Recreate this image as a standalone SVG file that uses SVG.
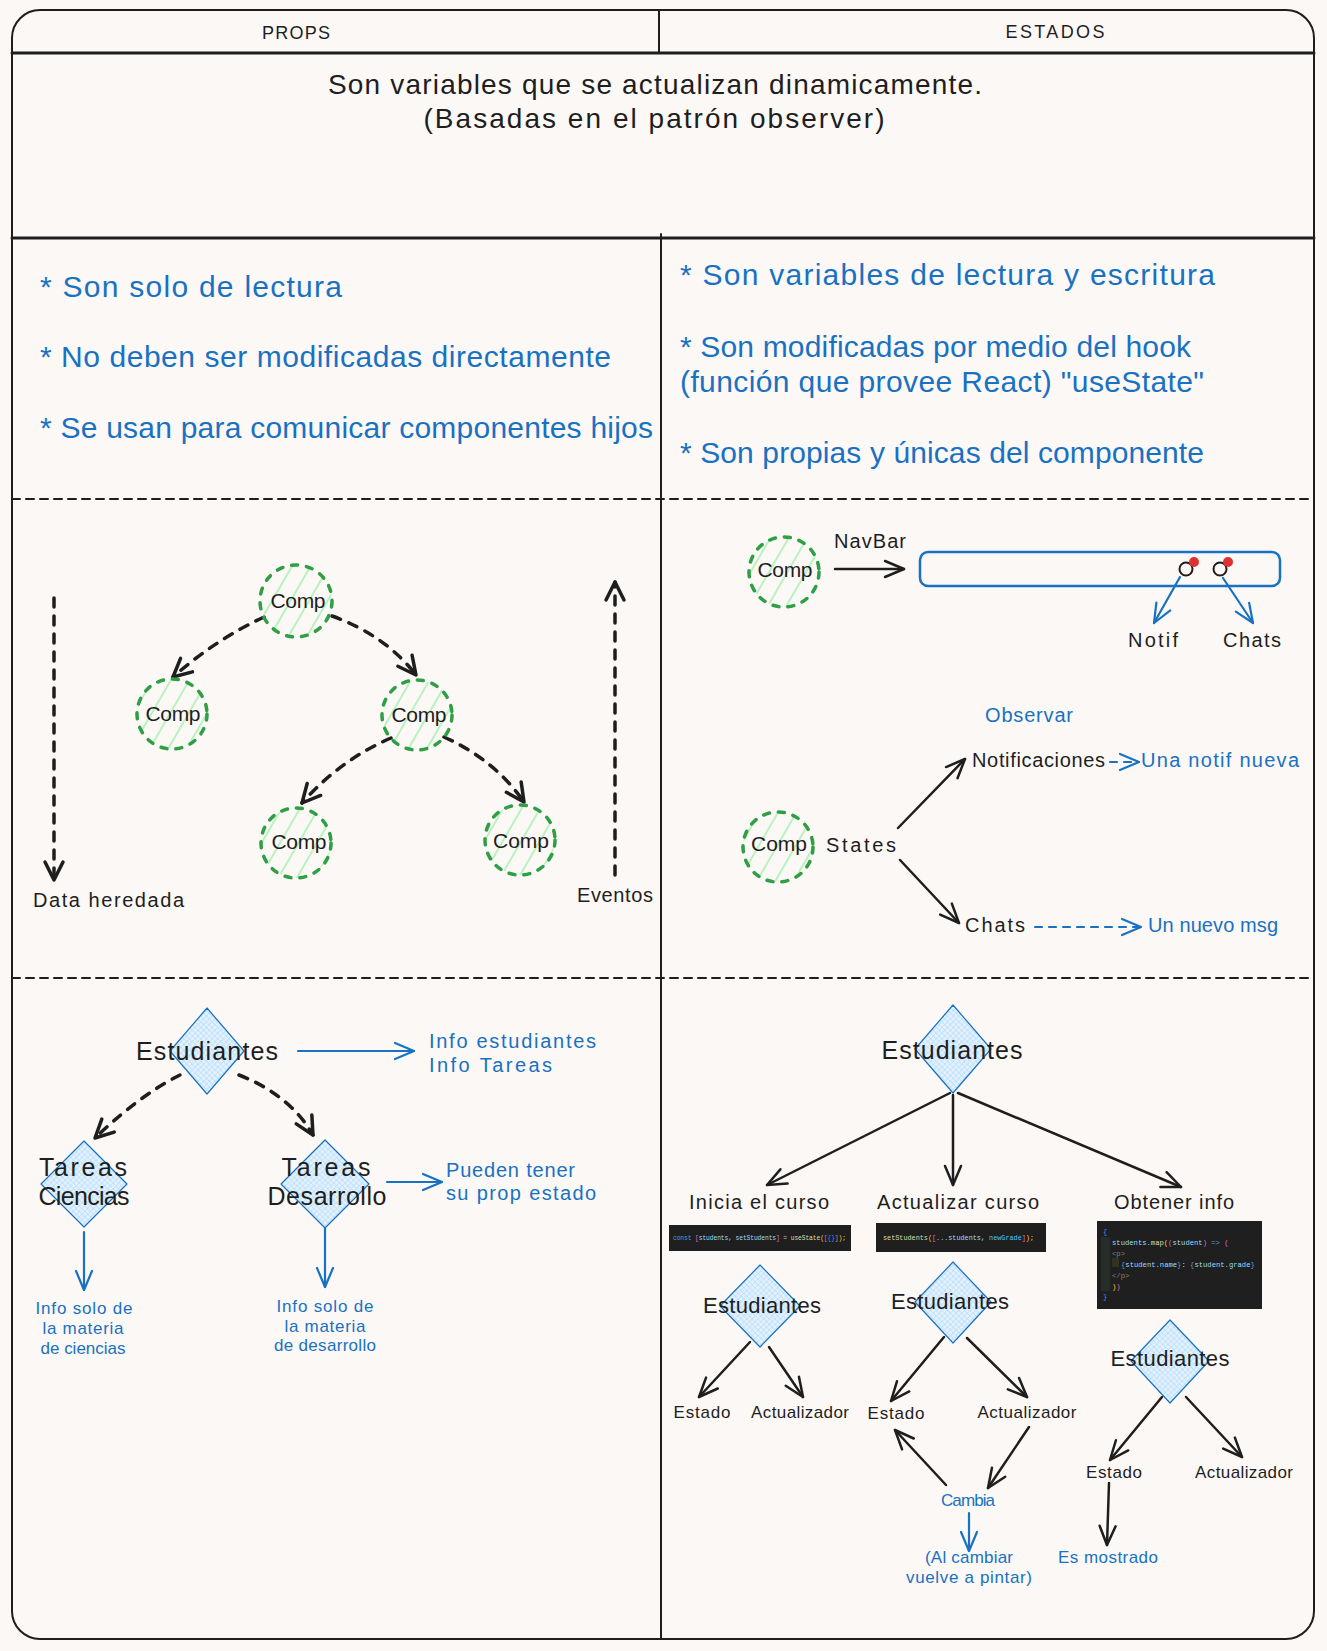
<svg xmlns="http://www.w3.org/2000/svg" width="1327" height="1651" viewBox="0 0 1327 1651">
<style>
.t{font-family:"Liberation Sans",Arial,sans-serif;fill:#1e1e1e}
.b{fill:#1971c2}
.m{text-anchor:middle}
.line{fill:none;stroke:#1e1e1e;stroke-linecap:round}
.ak{fill:none;stroke:#1e1e1e;stroke-width:2.5;stroke-linecap:round;marker-end:url(#ahK)}
.ad{fill:none;stroke:#1e1e1e;stroke-width:3.5;stroke-dasharray:9 9;stroke-linecap:round;marker-end:url(#ahD)}
.ab{fill:none;stroke:#1971c2;stroke-width:2.2;stroke-linecap:round;marker-end:url(#ahB)}
.abd{fill:none;stroke:#1971c2;stroke-width:2.2;stroke-dasharray:7 7;stroke-linecap:round;marker-end:url(#ahB)}
.comp{fill:url(#hachG);stroke:#2f9e44;stroke-width:3.5;stroke-dasharray:6 9;stroke-linecap:round}
.dia{fill:url(#xh);stroke:#1971c2;stroke-width:1.2;stroke-linejoin:round}
.code{font-family:"Liberation Mono","DejaVu Sans Mono",monospace;fill:#d4d4d4}
</style>
<defs>
<pattern id="hachG" patternUnits="userSpaceOnUse" width="16" height="16" patternTransform="rotate(30)">
<line x1="8" y1="0" x2="8" y2="16" stroke="#b2f2bb" stroke-width="1.8"/>
</pattern>
<pattern id="xh" patternUnits="userSpaceOnUse" width="4" height="4" patternTransform="rotate(45)">
<rect width="4" height="4" fill="#e4f1fc"/>
<path d="M0,0 L0,4 M0,0 L4,0" stroke="#a5d8ff" stroke-width="1"/>
</pattern>
<marker id="ahK" viewBox="0 0 24 24" refX="22" refY="12" markerWidth="24" markerHeight="24" markerUnits="userSpaceOnUse" orient="auto" overflow="visible">
<path d="M3,4 L22,12 L3,20" fill="none" stroke="#1e1e1e" stroke-width="2.5" stroke-linecap="round" stroke-linejoin="round"/>
</marker>
<marker id="ahD" viewBox="0 0 24 24" refX="22" refY="12" markerWidth="24" markerHeight="24" markerUnits="userSpaceOnUse" orient="auto" overflow="visible">
<path d="M4,3 L22,12 L4,21" fill="none" stroke="#1e1e1e" stroke-width="3.5" stroke-linecap="round" stroke-linejoin="round"/>
</marker>
<marker id="ahB" viewBox="0 0 24 24" refX="22" refY="12" markerWidth="24" markerHeight="24" markerUnits="userSpaceOnUse" orient="auto" overflow="visible">
<path d="M3,4 L22,12 L3,20" fill="none" stroke="#1971c2" stroke-width="2.2" stroke-linecap="round" stroke-linejoin="round"/>
</marker>
</defs>
<rect width="1327" height="1651" fill="#fcf8f6"/>

<g id="frame">
<rect x="12" y="10" width="1302" height="1629" rx="28" fill="none" stroke="#1e1e1e" stroke-width="2"/>
<path class="line" d="M12,53 L1314,53" stroke-width="3"/>
<path class="line" d="M659,10 L659,53" stroke-width="2"/>
<path class="line" d="M12,238 L1314,238" stroke-width="3"/>
<path class="line" d="M661,234 L661,1639" stroke-width="2"/>
<path class="line" d="M12,499 L1314,499" stroke-width="2" stroke-dasharray="8 6" stroke-linecap="butt"/>
<path class="line" d="M12,978 L1314,978" stroke-width="2" stroke-dasharray="8 6" stroke-linecap="butt"/>
</g>

<g id="header">
<text class="t m" x="296" y="39" font-size="18" textLength="68">PROPS</text>
<text class="t m" x="1055" y="38" font-size="18" textLength="99">ESTADOS</text>
<text class="t m" x="655" y="94" font-size="28" textLength="654">Son variables que se actualizan dinamicamente.</text>
<text class="t m" x="654" y="128" font-size="28" textLength="461">(Basadas en el patrón observer)</text>
</g>

<g id="props-text">
<text class="t b" x="40" y="297" font-size="30" textLength="302">* Son solo de lectura</text>
<text class="t b" x="40" y="367" font-size="30" textLength="571">* No deben ser modificadas directamente</text>
<text class="t b" x="40" y="438" font-size="30" textLength="613">* Se usan para comunicar componentes hijos</text>
</g>

<g id="estados-text">
<text class="t b" x="680" y="285" font-size="30" textLength="535">* Son variables de lectura y escritura</text>
<text class="t b" x="680" y="357" font-size="30" textLength="511">* Son modificadas por medio del hook</text>
<text class="t b" x="680" y="392" font-size="30" textLength="524">(función que provee React) "useState"</text>
<text class="t b" x="680" y="463" font-size="30" textLength="524">* Son propias y únicas del componente</text>
</g>

<g id="connectors">
<path class="ad" d="M264,617 Q215,640 173,677"/>
<path class="ad" d="M332,616 Q385,635 416,675"/>
<path class="ad" d="M391,738 Q340,760 302,803"/>
<path class="ad" d="M444,737 Q495,760 524,802"/>
<path class="ad" d="M54,598 L54,880"/>
<path class="ad" d="M615,875 L615,582"/>
<path class="ak" d="M835,569 L904,569"/>
<path class="ab" d="M1180,577 L1154,623"/>
<path class="ab" d="M1223,578 L1253,623"/>
<path class="abd" d="M1110,762 L1139,762"/>
<path class="ak" d="M898,828 L965,759" stroke-width="3"/>
<path class="ak" d="M900,860 L959,923" stroke-width="3"/>
<path class="abd" d="M1035,927 L1141,927"/>
<path class="ad" d="M180,1075 Q140,1095 95,1138"/>
<path class="ad" d="M239,1075 Q290,1095 313,1135"/>
<path class="ab" d="M298,1051 L414,1051"/>
<path class="ab" d="M387,1182 L442,1182"/>
<path class="ab" d="M84,1232 L84,1290"/>
<path class="ab" d="M325,1228 L325,1287"/>
<path class="ak" d="M950,1093 L767,1185" stroke-width="3"/>
<path class="ak" d="M953,1095 L953,1185"/>
<path class="ak" d="M958,1093 L1181,1187" stroke-width="3.5"/>
<path class="ak" d="M750,1342 L699,1397"/>
<path class="ak" d="M769,1347 L803,1397"/>
<path class="ak" d="M944,1337 L891,1401"/>
<path class="ak" d="M967,1338 L1027,1397" stroke-width="3"/>
<path class="ak" d="M946,1485 L895,1430"/>
<path class="ak" d="M1029,1427 L988,1488"/>
<path class="ab" d="M969,1513 L969,1551"/>
<path class="ak" d="M1162,1397 L1110,1460" stroke-width="3"/>
<path class="ak" d="M1186,1397 L1242,1457"/>
<path class="ak" d="M1109,1483 L1107,1545"/>
</g>

<g id="comp-root"><circle class="comp" cx="296" cy="601" r="36"/><text class="t m" x="298" y="608" font-size="21" textLength="55">Comp</text></g>
<g id="comp-left"><circle class="comp" cx="172" cy="714" r="35"/><text class="t m" x="173" y="721" font-size="21" textLength="55">Comp</text></g>
<g id="comp-mid"><circle class="comp" cx="417" cy="715" r="35"/><text class="t m" x="419" y="722" font-size="21" textLength="55">Comp</text></g>
<g id="comp-bl"><circle class="comp" cx="296" cy="843" r="35"/><text class="t m" x="299" y="849" font-size="21" textLength="55">Comp</text></g>
<g id="comp-br"><circle class="comp" cx="520" cy="840" r="35"/><text class="t m" x="521" y="848" font-size="21" textLength="56">Comp</text></g>
<g id="label-data"><text class="t" x="33" y="907" font-size="20" textLength="151">Data heredada</text></g>
<g id="label-eventos"><text class="t" x="577" y="902" font-size="20" textLength="76">Eventos</text></g>

<g id="comp-navbar"><circle class="comp" cx="784" cy="572" r="35"/><text class="t m" x="785" y="577" font-size="21" textLength="55">Comp</text></g>
<g id="label-navbar"><text class="t" x="834" y="548" font-size="20" textLength="72">NavBar</text></g>
<g id="navbar">
<rect x="920" y="552" width="360" height="34" rx="8" fill="none" stroke="#1971c2" stroke-width="2.5"/>
<circle cx="1186" cy="569" r="6.5" fill="none" stroke="#1e1e1e" stroke-width="2"/>
<circle cx="1220" cy="569" r="6.5" fill="none" stroke="#1e1e1e" stroke-width="2"/>
<circle cx="1194" cy="562" r="5" fill="#e03131"/>
<circle cx="1228" cy="562" r="5" fill="#e03131"/>
</g>
<g id="label-notif"><text class="t m" x="1153" y="647" font-size="20" textLength="50">Notif</text></g>
<g id="label-chats"><text class="t m" x="1252" y="647" font-size="20" textLength="58">Chats</text></g>

<g id="label-observar"><text class="t b m" x="1029" y="722" font-size="20" textLength="88">Observar</text></g>
<g id="comp-states"><circle class="comp" cx="778" cy="847" r="35"/><text class="t m" x="779" y="851" font-size="21" textLength="56">Comp</text></g>
<g id="label-states"><text class="t" x="826" y="852" font-size="20" textLength="70">States</text></g>
<g id="label-notificaciones"><text class="t" x="972" y="767" font-size="20" textLength="133">Notificaciones</text></g>
<g id="label-una-notif"><text class="t b" x="1141" y="767" font-size="20" textLength="158">Una notif nueva</text></g>
<g id="label-chats2"><text class="t" x="965" y="932" font-size="20" textLength="60">Chats</text></g>
<g id="label-un-nuevo"><text class="t b" x="1148" y="932" font-size="20" textLength="130">Un nuevo msg</text></g>

<g id="est-left"><path class="dia" d="M207,1008 L244,1051 L207,1094 L170,1051 Z"/><text class="t m" x="207" y="1060" font-size="25" textLength="142">Estudiantes</text></g>
<g id="info-est"><text class="t b" x="429" y="1048" font-size="20" textLength="167">Info estudiantes</text><text class="t b" x="429" y="1072" font-size="20" textLength="123">Info Tareas</text></g>
<g id="tareas-ciencias"><path class="dia" d="M84,1141 L127,1184 L84,1227 L41,1184 Z"/><text class="t m" x="83" y="1176" font-size="25" textLength="88">Tareas</text><text class="t m" x="84" y="1205" font-size="25" textLength="91">Ciencias</text></g>
<g id="tareas-desarrollo"><path class="dia" d="M325,1140 L369,1184 L325,1228 L281,1184 Z"/><text class="t m" x="326" y="1176" font-size="25" textLength="89">Tareas</text><text class="t m" x="327" y="1205" font-size="25" textLength="119">Desarrollo</text></g>
<g id="pueden"><text class="t b" x="446" y="1177" font-size="20" textLength="129">Pueden tener</text><text class="t b" x="446" y="1200" font-size="20" textLength="150">su prop estado</text></g>
<g id="info-ciencias"><text class="t b m" x="84" y="1314" font-size="17" textLength="97">Info solo de</text><text class="t b m" x="83" y="1334" font-size="17" textLength="81">la materia</text><text class="t b m" x="83" y="1354" font-size="17" textLength="85">de ciencias</text></g>
<g id="info-desarrollo"><text class="t b m" x="325" y="1312" font-size="17" textLength="97">Info solo de</text><text class="t b m" x="325" y="1332" font-size="17" textLength="81">la materia</text><text class="t b m" x="325" y="1351" font-size="17" textLength="102">de desarrollo</text></g>

<g id="est-right"><path class="dia" d="M953,1005 L991,1049 L953,1093 L915,1049 Z"/><text class="t m" x="952" y="1059" font-size="25" textLength="141">Estudiantes</text></g>
<g id="label-inicia"><text class="t m" x="759" y="1209" font-size="20" textLength="140">Inicia el curso</text></g>
<g id="label-actualizar"><text class="t m" x="958" y="1209" font-size="20" textLength="162">Actualizar curso</text></g>
<g id="label-obtener"><text class="t m" x="1174" y="1209" font-size="20" textLength="120">Obtener info</text></g>

<g id="code1">
<rect x="669" y="1225" width="182" height="26" fill="#1f1f1f"/>
<text class="code" x="673" y="1240" font-size="6.3" textLength="173"><tspan fill="#569cd6">const</tspan> <tspan fill="#da70d6">[</tspan><tspan fill="#9cdcfe">students</tspan>, <tspan fill="#9cdcfe">setStudents</tspan><tspan fill="#da70d6">]</tspan> = <tspan fill="#dcdcaa">useState</tspan><tspan fill="#ffd700">(</tspan><tspan fill="#da70d6">[</tspan><tspan fill="#179fff">{}</tspan><tspan fill="#da70d6">]</tspan><tspan fill="#ffd700">)</tspan>;</text>
</g>
<g id="code2">
<rect x="876" y="1223" width="170" height="29" fill="#1f1f1f"/>
<text class="code" x="883" y="1240" font-size="6.8" textLength="151"><tspan fill="#dcdcaa">setStudents</tspan><tspan fill="#ffd700">(</tspan><tspan fill="#da70d6">[</tspan><tspan fill="#9cdcfe">...students</tspan>, <tspan fill="#4fc1ff">newGrade</tspan><tspan fill="#da70d6">]</tspan><tspan fill="#ffd700">)</tspan>;</text>
</g>
<g id="code3">
<rect x="1097" y="1221" width="165" height="88" fill="#1f1f1f"/>
<rect x="1101" y="1237" width="9" height="54" fill="#262d29"/>
<rect x="1112" y="1258" width="7" height="9" fill="#33321f"/>
<text class="code" font-size="7.2">
<tspan x="1103" y="1234" fill="#179fff">{</tspan>
<tspan x="1112" y="1245" fill="#9cdcfe">students.<tspan fill="#dcdcaa">map</tspan><tspan fill="#ffd700">(</tspan><tspan fill="#da70d6">(</tspan>student<tspan fill="#da70d6">)</tspan><tspan fill="#569cd6"> =&gt; </tspan><tspan fill="#da70d6">(</tspan></tspan>
<tspan x="1112" y="1256" fill="#808080">&lt;p&gt;</tspan>
<tspan x="1121" y="1267" fill="#9cdcfe"><tspan fill="#569cd6">{</tspan>student.name<tspan fill="#569cd6">}</tspan><tspan fill="#d4d4d4">: </tspan><tspan fill="#569cd6">{</tspan>student.grade<tspan fill="#569cd6">}</tspan></tspan>
<tspan x="1112" y="1278" fill="#808080">&lt;/p&gt;</tspan>
<tspan x="1112" y="1289" fill="#ffd700">)<tspan fill="#da70d6">)</tspan></tspan>
<tspan x="1103" y="1299" fill="#179fff">}</tspan>
</text>
</g>

<g id="est-a"><path class="dia" d="M760,1265 L800,1306 L760,1347 L720,1306 Z"/><text class="t m" x="762" y="1313" font-size="22" textLength="118">Estudiantes</text></g>
<g id="est-b"><path class="dia" d="M953,1262 L991,1302 L953,1343 L915,1302 Z"/><text class="t m" x="950" y="1309" font-size="22" textLength="118">Estudiantes</text></g>
<g id="est-c"><path class="dia" d="M1170,1320 L1209,1361 L1170,1403 L1131,1361 Z"/><text class="t m" x="1170" y="1366" font-size="22" textLength="119">Estudiantes</text></g>

<g id="lbl-estado-a"><text class="t m" x="702" y="1418" font-size="17" textLength="57">Estado</text></g>
<g id="lbl-act-a"><text class="t m" x="800" y="1418" font-size="17" textLength="98">Actualizador</text></g>
<g id="lbl-estado-b"><text class="t m" x="896" y="1419" font-size="17" textLength="57">Estado</text></g>
<g id="lbl-act-b"><text class="t m" x="1027" y="1418" font-size="17" textLength="99">Actualizador</text></g>
<g id="lbl-cambia"><text class="t b m" x="968" y="1506" font-size="17" textLength="54">Cambia</text></g>
<g id="lbl-al-cambiar"><text class="t b m" x="969" y="1563" font-size="17" textLength="88">(Al cambiar</text><text class="t b m" x="969" y="1583" font-size="17" textLength="126">vuelve a pintar)</text></g>
<g id="lbl-estado-c"><text class="t m" x="1114" y="1478" font-size="17" textLength="56">Estado</text></g>
<g id="lbl-act-c"><text class="t m" x="1244" y="1478" font-size="17" textLength="98">Actualizador</text></g>
<g id="lbl-mostrado"><text class="t b m" x="1108" y="1563" font-size="17" textLength="100">Es mostrado</text></g>
</svg>
